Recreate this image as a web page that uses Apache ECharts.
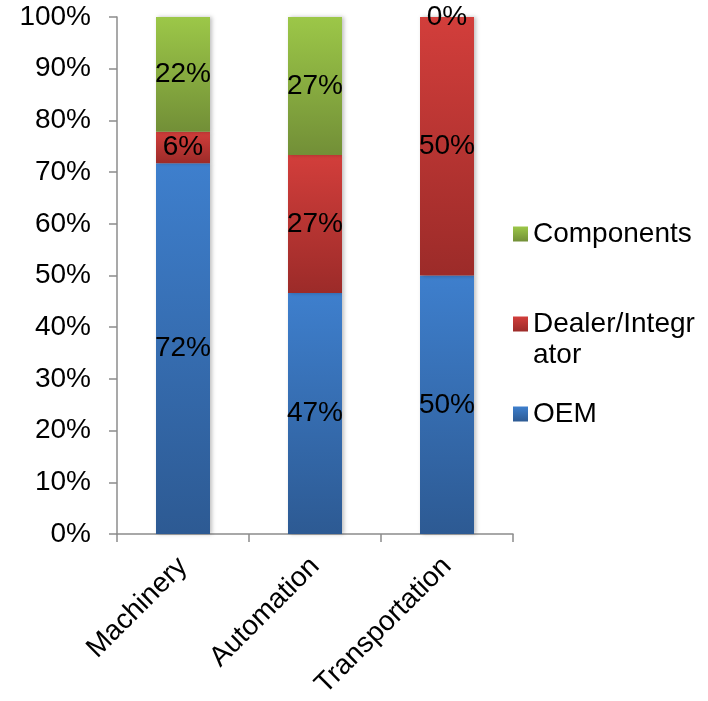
<!DOCTYPE html>
<html>
<head>
<meta charset="utf-8">
<script src="https://cdn.jsdelivr.net/npm/echarts@6/dist/echarts.min.js"></script>
<style>html,body{margin:0;padding:0;background:#fff;}#c{width:708px;height:701px;}</style>
</head>
<body>
<div id="c"></div>
<script>
var categories = ['Machinery', 'Automation', 'Transportation'];
var oem = [71.7, 46.6, 50];
var dealer = [6.1, 26.7, 50];
var components = [22.2, 26.7, 0];
var yTicks = ['0%','10%','20%','30%','40%','50%','60%','70%','80%','90%','100%'];

var FONT = 'Liberation Sans, Arial, sans-serif';
var FS = 28;

function grad(top, bottom) {
  return new echarts.graphic.LinearGradient(0, 0, 0, 1, [
    {offset: 0, color: top}, {offset: 1, color: bottom}
  ]);
}
function mk(name, data, top, bottom) {
  return {
    name: name, type: 'bar', stack: 'total', data: data,
    barWidth: 54,
    itemStyle: {color: grad(top, bottom), shadowColor: 'rgba(0,0,0,0.25)', shadowBlur: 4, shadowOffsetX: 2},
    label: {show: true, position: 'inside', color: '#000', fontFamily: FONT, fontSize: FS,
      formatter: function (p) { return Math.round(p.value) + '%'; }},
    emphasis: {disabled: true}
  };
}

var chart = echarts.init(document.getElementById('c'));
var legendBase = {orient: 'vertical', left: 508, itemWidth: 15, itemHeight: 15,
  icon: 'rect', textStyle: {fontFamily: FONT, fontSize: FS, color: '#000'}, selectedMode: false};
chart.setOption({
  animation: false,
  grid: {left: 117, top: 17, width: 396, bottom: 166, containLabel: false},
  legend: [
    Object.assign({}, legendBase, {top: 215, data: ['Components']}),
    Object.assign({}, legendBase, {top: 305, data: ['Dealer/Integrator'], formatter: function(){return 'Dealer/Integr';}}),
    Object.assign({}, legendBase, {top: 395, data: ['OEM']})
  ],
  graphic: [{type: 'text', left: 533, top: 341, style: {text: 'ator', font: FS + 'px ' + FONT, fill: '#000'}}],
  xAxis: {
    type: 'category', data: categories,
    axisLine: {lineStyle: {color: '#8c8c8c', width: 1.5}},
    axisTick: {show: true, length: 8, lineStyle: {color: '#8c8c8c', width: 1.5}},
    axisLabel: {rotate: 45, margin: 28, color: '#000', fontFamily: FONT, fontSize: FS, interval: 0}
  },
  yAxis: {
    type: 'value', min: 0, max: 100, interval: 10,
    axisLine: {show: true, lineStyle: {color: '#8c8c8c', width: 1.5}},
    axisTick: {show: true, length: 8, lineStyle: {color: '#8c8c8c', width: 1.5}},
    splitLine: {show: false},
    axisLabel: {margin: 26, color: '#000', fontFamily: FONT, fontSize: FS,
      formatter: function (v) { return yTicks[Math.round(v / 10)]; }}
  },
  series: [
    mk('OEM', oem, '#3e7fcd', '#2d5a93'),
    mk('Dealer/Integrator', dealer, '#d23e3b', '#9c2b29'),
    mk('Components', components, '#9cc748', '#728f37')
  ]
});
</script>
</body>
</html>
